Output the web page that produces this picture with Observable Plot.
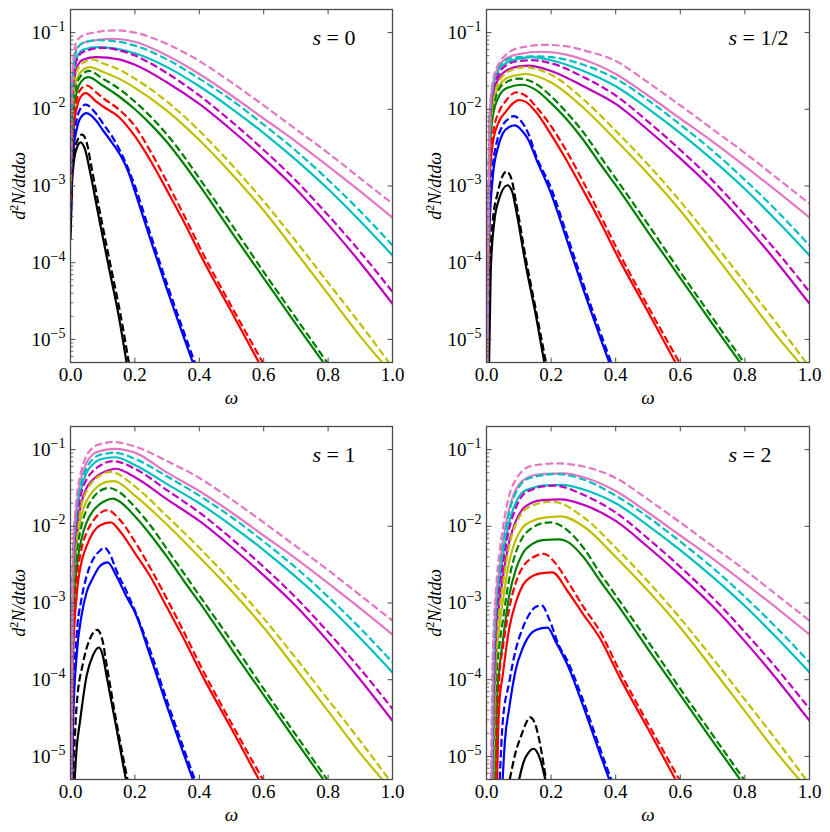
<!DOCTYPE html>
<html>
<head>
<meta charset="utf-8">
<script src="https://cdn.jsdelivr.net/npm/d3@7"></script>
<script src="https://cdn.jsdelivr.net/npm/@observablehq/plot@0.6"></script>
<style>
  body { margin: 0; background: #fff; }
  #fig { position: relative; width: 830px; height: 832px; background: #fff; }
  .panel { position: absolute; width: 415px; height: 416px; }
</style>
</head>
<body>
<div id="fig"></div>
<script>
// ---------- chart values ----------
// Each curve is a list of [omega, log10(d2N/dtdω)] pairs.
const seriesNames  = ["k", "b", "r", "g", "y", "m", "c", "p"];
const seriesColors = ["#000000", "#0000ff", "#ff0000", "#008000", "#bfbf00", "#bf00bf", "#00bfbf", "#e377c2"];
const omegaTicks = [0, 0.2, 0.4, 0.6, 0.8, 1.0];
const decadeExponents = [-5, -4, -3, -2, -1];
const panelLabels = ["0", "1/2", "1", "2"];
const xLabel = "ω";
const yLabel = "d2N/dtdω";
const omegaDomain = [0, 1];
const rateDomain = [5e-6, 0.2];

// high-omega parts, identical in all four panels
const tailSolid = [
  [],
  [[0.3,-4.35],[0.35,-4.95],[0.38,-5.3]],
  [[0.35,-3.45],[0.41,-3.95],[0.5,-4.64],[0.585,-5.3]],
  [[0.35,-2.7],[0.4,-2.99],[0.5,-3.6],[0.6,-4.2],[0.7,-4.8],[0.785,-5.3]],
  [[0.4,-2.4],[0.5,-2.84],[0.6,-3.32],[0.7,-3.86],[0.8,-4.41],[0.9,-4.96],[0.968,-5.3]],
  [[0.4,-1.93],[0.5,-2.27],[0.6,-2.64],[0.7,-3.04],[0.8,-3.5],[0.9,-4.0],[1.0,-4.535]],
  [[0.4,-1.7],[0.5,-1.99],[0.6,-2.31],[0.7,-2.66],[0.8,-3.04],[0.9,-3.46],[1.0,-3.905]],
  [[0.4,-1.54],[0.5,-1.82],[0.6,-2.12],[0.7,-2.42],[0.8,-2.74],[0.9,-3.07],[1.0,-3.41]]
];
const tailDashed = [
  [],
  [[0.3,-4.28],[0.35,-4.88],[0.386,-5.3]],
  [[0.35,-3.36],[0.41,-3.87],[0.5,-4.57],[0.597,-5.3]],
  [[0.35,-2.6],[0.4,-2.9],[0.5,-3.5],[0.6,-4.12],[0.7,-4.72],[0.797,-5.3]],
  [[0.4,-2.28],[0.5,-2.72],[0.6,-3.2],[0.7,-3.72],[0.8,-4.26],[0.9,-4.8],[0.989,-5.3]],
  [[0.4,-1.82],[0.5,-2.16],[0.6,-2.53],[0.7,-2.93],[0.8,-3.38],[0.9,-3.86],[1.0,-4.38]],
  [[0.4,-1.6],[0.5,-1.88],[0.6,-2.2],[0.7,-2.54],[0.8,-2.92],[0.9,-3.33],[1.0,-3.775]],
  [[0.4,-1.37],[0.5,-1.65],[0.6,-1.95],[0.7,-2.26],[0.8,-2.57],[0.9,-2.9],[1.0,-3.23]]
];

// s = 0
const s0Solid = [
  [[0,-3.69],[0.005,-2.95],[0.01,-2.7],[0.02,-2.5],[0.031,-2.43],[0.045,-2.52],[0.06,-2.8],[0.09,-3.45],[0.12,-4.08],[0.15,-4.7],[0.174,-5.3]],
  [[0,-3.4],[0.005,-2.8],[0.01,-2.5],[0.02,-2.25],[0.03,-2.12],[0.05,-2.05],[0.08,-2.15],[0.1,-2.27],[0.13,-2.44],[0.155,-2.6],[0.18,-2.82],[0.2,-3.07],[0.25,-3.72]],
  [[0,-3.25],[0.005,-2.6],[0.01,-2.25],[0.02,-1.97],[0.03,-1.85],[0.047,-1.79],[0.08,-1.9],[0.1,-1.96],[0.15,-2.1],[0.2,-2.35],[0.25,-2.68],[0.3,-3.06]],
  [[0,-3.1],[0.005,-2.4],[0.01,-2.0],[0.02,-1.77],[0.035,-1.63],[0.055,-1.58],[0.1,-1.69],[0.15,-1.83],[0.2,-2.0],[0.25,-2.2],[0.3,-2.43]],
  [[0,-3.0],[0.005,-2.25],[0.01,-1.85],[0.02,-1.6],[0.035,-1.5],[0.06,-1.45],[0.1,-1.51],[0.15,-1.6],[0.2,-1.72],[0.3,-2.02]],
  [[0,-2.9],[0.005,-2.1],[0.01,-1.7],[0.02,-1.45],[0.04,-1.35],[0.08,-1.32],[0.15,-1.35],[0.2,-1.42],[0.3,-1.65]],
  [[0,-2.8],[0.005,-1.95],[0.01,-1.55],[0.02,-1.32],[0.04,-1.22],[0.09,-1.19],[0.2,-1.27],[0.3,-1.45]],
  [[0,-2.7],[0.005,-1.8],[0.01,-1.4],[0.02,-1.2],[0.05,-1.12],[0.13,-1.08],[0.2,-1.12],[0.3,-1.3]]
];
const s0Dashed = [
  [[0,-3.6],[0.005,-2.85],[0.01,-2.6],[0.02,-2.42],[0.036,-2.33],[0.05,-2.43],[0.065,-2.75],[0.095,-3.42],[0.125,-4.05],[0.155,-4.67],[0.181,-5.3]],
  [[0,-3.35],[0.005,-2.7],[0.01,-2.4],[0.02,-2.12],[0.03,-2.0],[0.047,-1.94],[0.08,-2.06],[0.1,-2.18],[0.13,-2.36],[0.155,-2.55],[0.18,-2.78],[0.2,-3.0],[0.25,-3.65]],
  [[0,-3.2],[0.005,-2.5],[0.01,-2.15],[0.02,-1.87],[0.03,-1.75],[0.05,-1.69],[0.08,-1.78],[0.1,-1.85],[0.15,-2.0],[0.2,-2.22],[0.25,-2.56],[0.3,-2.95]],
  [[0,-3.05],[0.005,-2.3],[0.01,-1.92],[0.02,-1.67],[0.035,-1.55],[0.058,-1.5],[0.1,-1.6],[0.15,-1.73],[0.2,-1.9],[0.25,-2.1],[0.3,-2.33]],
  [[0,-2.95],[0.005,-2.2],[0.01,-1.75],[0.02,-1.5],[0.04,-1.39],[0.07,-1.35],[0.1,-1.4],[0.15,-1.48],[0.2,-1.6],[0.3,-1.9]],
  [[0,-2.85],[0.005,-2.0],[0.01,-1.6],[0.02,-1.35],[0.04,-1.25],[0.1,-1.2],[0.15,-1.23],[0.2,-1.3],[0.3,-1.53]],
  [[0,-2.75],[0.005,-1.85],[0.01,-1.45],[0.02,-1.22],[0.04,-1.13],[0.08,-1.1],[0.15,-1.12],[0.2,-1.17],[0.3,-1.35]],
  [[0,-2.65],[0.005,-1.7],[0.01,-1.3],[0.02,-1.1],[0.05,-1.02],[0.14,-0.97],[0.2,-1.0],[0.3,-1.15]]
];

// s = 1/2
const s05Solid = [
  [[0.008,-5.3],[0.013,-4.12],[0.024,-3.47],[0.039,-3.17],[0.065,-2.99],[0.08,-3.08],[0.091,-3.3],[0.122,-4.04],[0.153,-4.69],[0.179,-5.3]],
  [[0.004,-5.3],[0.008,-3.69],[0.02,-2.86],[0.034,-2.52],[0.05,-2.32],[0.07,-2.23],[0.088,-2.21],[0.11,-2.28],[0.13,-2.4],[0.153,-2.64],[0.2,-3.1],[0.25,-3.72]],
  [[0.003,-5.3],[0.01,-2.91],[0.02,-2.43],[0.04,-2.15],[0.06,-2.03],[0.08,-1.93],[0.1,-1.88],[0.12,-1.9],[0.15,-2.02],[0.2,-2.33],[0.25,-2.68],[0.3,-3.06]],
  [[0.003,-5.3],[0.01,-2.56],[0.02,-2.08],[0.04,-1.82],[0.06,-1.73],[0.11,-1.68],[0.15,-1.74],[0.2,-1.92],[0.25,-2.14],[0.3,-2.4]],
  [[0.002,-5.3],[0.01,-2.39],[0.02,-1.95],[0.04,-1.69],[0.06,-1.6],[0.1,-1.55],[0.12,-1.54],[0.2,-1.65],[0.3,-1.98]],
  [[0.002,-5.3],[0.01,-2.26],[0.02,-1.82],[0.04,-1.58],[0.06,-1.5],[0.1,-1.44],[0.13,-1.43],[0.2,-1.5],[0.3,-1.7]],
  [[0.002,-5.3],[0.01,-2.15],[0.02,-1.73],[0.04,-1.47],[0.06,-1.4],[0.1,-1.34],[0.14,-1.32],[0.2,-1.36],[0.3,-1.5]],
  [[0.002,-5.3],[0.01,-2.08],[0.02,-1.67],[0.04,-1.43],[0.06,-1.34],[0.1,-1.28],[0.17,-1.25],[0.25,-1.29],[0.3,-1.35]]
];
const s05Dashed = [
  [[0.006,-5.3],[0.011,-4.1],[0.019,-3.47],[0.034,-3.1],[0.062,-2.81],[0.078,-2.92],[0.091,-3.2],[0.122,-3.95],[0.153,-4.62],[0.184,-5.3]],
  [[0.004,-5.3],[0.008,-3.5],[0.02,-2.73],[0.034,-2.39],[0.05,-2.21],[0.07,-2.12],[0.084,-2.09],[0.11,-2.17],[0.13,-2.32],[0.153,-2.6],[0.2,-3.03],[0.25,-3.65]],
  [[0.003,-5.3],[0.01,-2.78],[0.02,-2.32],[0.04,-2.02],[0.06,-1.89],[0.08,-1.8],[0.09,-1.78],[0.12,-1.82],[0.15,-1.95],[0.2,-2.22],[0.25,-2.56],[0.3,-2.95]],
  [[0.003,-5.3],[0.01,-2.48],[0.02,-2.02],[0.04,-1.73],[0.06,-1.65],[0.1,-1.6],[0.15,-1.66],[0.2,-1.83],[0.25,-2.05],[0.3,-2.3]],
  [[0.002,-5.3],[0.01,-2.35],[0.02,-1.89],[0.04,-1.63],[0.06,-1.53],[0.1,-1.46],[0.116,-1.45],[0.2,-1.55],[0.3,-1.87]],
  [[0.002,-5.3],[0.01,-2.22],[0.02,-1.78],[0.04,-1.52],[0.06,-1.43],[0.1,-1.37],[0.14,-1.36],[0.2,-1.4],[0.3,-1.58]],
  [[0.002,-5.3],[0.01,-2.12],[0.02,-1.7],[0.04,-1.45],[0.06,-1.36],[0.1,-1.32],[0.14,-1.31],[0.2,-1.32],[0.3,-1.42]],
  [[0.002,-5.3],[0.01,-2.04],[0.02,-1.63],[0.04,-1.39],[0.06,-1.29],[0.1,-1.2],[0.18,-1.16],[0.25,-1.18],[0.3,-1.23]]
];

// s = 1
const s1Solid = [
  [[0.013,-5.3],[0.019,-4.9],[0.029,-4.56],[0.05,-3.95],[0.07,-3.68],[0.088,-3.58],[0.1,-3.68],[0.112,-3.95],[0.143,-4.64],[0.172,-5.3]],
  [[0.006,-5.3],[0.008,-4.56],[0.019,-3.69],[0.034,-3.17],[0.05,-2.86],[0.07,-2.67],[0.091,-2.52],[0.115,-2.47],[0.143,-2.65],[0.174,-2.92],[0.2,-3.12],[0.25,-3.72]],
  [[0.004,-5.3],[0.008,-3.69],[0.019,-2.91],[0.034,-2.47],[0.05,-2.26],[0.07,-2.08],[0.091,-1.99],[0.125,-1.95],[0.153,-2.06],[0.2,-2.35],[0.25,-2.67],[0.3,-3.06]],
  [[0.003,-5.3],[0.008,-3.25],[0.019,-2.56],[0.034,-2.17],[0.05,-1.95],[0.07,-1.8],[0.091,-1.71],[0.112,-1.66],[0.132,-1.64],[0.15,-1.67],[0.2,-1.87],[0.25,-2.12],[0.3,-2.4]],
  [[0.003,-5.3],[0.008,-2.91],[0.019,-2.26],[0.034,-1.86],[0.05,-1.67],[0.07,-1.54],[0.091,-1.46],[0.112,-1.42],[0.135,-1.41],[0.2,-1.6],[0.3,-1.98]],
  [[0.003,-5.3],[0.008,-2.73],[0.019,-2.08],[0.034,-1.69],[0.05,-1.5],[0.07,-1.39],[0.091,-1.32],[0.112,-1.28],[0.14,-1.25],[0.2,-1.36],[0.3,-1.65]],
  [[0.002,-5.3],[0.008,-2.52],[0.019,-1.86],[0.034,-1.5],[0.05,-1.3],[0.07,-1.19],[0.091,-1.13],[0.138,-1.1],[0.2,-1.2],[0.3,-1.45]],
  [[0.002,-5.3],[0.008,-2.39],[0.019,-1.73],[0.034,-1.36],[0.05,-1.17],[0.07,-1.06],[0.091,-1.02],[0.112,-1.0],[0.138,-0.99],[0.2,-1.04],[0.3,-1.3]]
];
const s1Dashed = [
  [[0.008,-5.3],[0.019,-4.34],[0.039,-3.78],[0.06,-3.47],[0.083,-3.35],[0.1,-3.5],[0.112,-3.8],[0.143,-4.56],[0.177,-5.3]],
  [[0.005,-5.3],[0.008,-4.4],[0.019,-3.43],[0.034,-2.95],[0.05,-2.65],[0.07,-2.43],[0.091,-2.32],[0.105,-2.28],[0.122,-2.36],[0.143,-2.58],[0.174,-2.85],[0.2,-3.1],[0.25,-3.65]],
  [[0.004,-5.3],[0.008,-3.52],[0.019,-2.73],[0.034,-2.3],[0.05,-2.08],[0.07,-1.93],[0.091,-1.83],[0.115,-1.79],[0.15,-1.9],[0.2,-2.2],[0.25,-2.56],[0.3,-2.95]],
  [[0.003,-5.3],[0.008,-3.08],[0.019,-2.39],[0.034,-2.0],[0.05,-1.78],[0.07,-1.63],[0.091,-1.54],[0.12,-1.5],[0.15,-1.55],[0.2,-1.75],[0.25,-2.0],[0.3,-2.3]],
  [[0.003,-5.3],[0.008,-2.73],[0.019,-2.13],[0.034,-1.73],[0.05,-1.54],[0.07,-1.41],[0.091,-1.34],[0.125,-1.29],[0.2,-1.48],[0.3,-1.87]],
  [[0.003,-5.3],[0.008,-2.6],[0.019,-1.95],[0.034,-1.56],[0.05,-1.39],[0.07,-1.28],[0.091,-1.21],[0.132,-1.15],[0.2,-1.25],[0.3,-1.53]],
  [[0.002,-5.3],[0.008,-2.45],[0.019,-1.8],[0.034,-1.43],[0.05,-1.24],[0.07,-1.12],[0.091,-1.07],[0.115,-1.05],[0.135,-1.04],[0.2,-1.12],[0.3,-1.35]],
  [[0.002,-5.3],[0.008,-2.3],[0.019,-1.64],[0.034,-1.27],[0.05,-1.08],[0.07,-0.97],[0.091,-0.93],[0.112,-0.91],[0.132,-0.9],[0.2,-0.96],[0.3,-1.15]]
];

// s = 2
const s2Solid = [
  [[0.101,-5.3],[0.115,-5.07],[0.13,-4.95],[0.146,-4.9],[0.16,-4.97],[0.172,-5.12],[0.182,-5.3]],
  [[0.05,-5.3],[0.057,-4.8],[0.07,-4.38],[0.091,-3.86],[0.111,-3.6],[0.142,-3.38],[0.168,-3.33],[0.189,-3.32],[0.215,-3.51],[0.25,-3.8]],
  [[0.033,-5.3],[0.036,-4.7],[0.04,-4.3],[0.05,-3.95],[0.07,-3.34],[0.091,-2.99],[0.111,-2.78],[0.142,-2.65],[0.173,-2.61],[0.204,-2.6],[0.25,-2.84],[0.3,-3.15]],
  [[0.027,-5.3],[0.031,-4.5],[0.034,-4.15],[0.04,-3.85],[0.05,-3.51],[0.07,-2.91],[0.091,-2.56],[0.111,-2.36],[0.142,-2.23],[0.173,-2.18],[0.225,-2.17],[0.25,-2.2],[0.3,-2.4]],
  [[0.023,-5.3],[0.027,-4.3],[0.03,-3.8],[0.04,-3.3],[0.05,-2.99],[0.07,-2.47],[0.091,-2.17],[0.111,-2.02],[0.142,-1.93],[0.173,-1.89],[0.23,-1.87],[0.3,-2.0]],
  [[0.02,-5.3],[0.025,-4.1],[0.029,-3.5],[0.04,-3.0],[0.05,-2.69],[0.07,-2.21],[0.091,-1.93],[0.111,-1.78],[0.142,-1.69],[0.173,-1.66],[0.23,-1.65],[0.3,-1.72]],
  [[0.018,-5.3],[0.023,-4.0],[0.029,-3.2],[0.04,-2.75],[0.05,-2.43],[0.07,-1.95],[0.091,-1.69],[0.111,-1.56],[0.142,-1.5],[0.173,-1.47],[0.235,-1.46],[0.3,-1.52]],
  [[0.016,-5.3],[0.021,-3.85],[0.029,-3.0],[0.04,-2.55],[0.05,-2.21],[0.07,-1.78],[0.091,-1.52],[0.111,-1.41],[0.142,-1.34],[0.173,-1.32],[0.24,-1.31],[0.3,-1.36]]
];
const s2Dashed = [
  [[0.072,-5.3],[0.09,-4.95],[0.11,-4.7],[0.123,-4.56],[0.135,-4.49],[0.148,-4.55],[0.16,-4.72],[0.172,-4.98],[0.184,-5.3]],
  [[0.041,-5.3],[0.05,-4.56],[0.07,-4.04],[0.091,-3.6],[0.111,-3.34],[0.132,-3.15],[0.153,-3.05],[0.171,-3.03],[0.194,-3.21],[0.225,-3.56],[0.25,-3.75]],
  [[0.03,-5.3],[0.033,-4.7],[0.036,-4.3],[0.04,-3.95],[0.05,-3.6],[0.07,-3.08],[0.091,-2.73],[0.111,-2.54],[0.142,-2.41],[0.178,-2.36],[0.215,-2.49],[0.25,-2.71],[0.3,-3.05]],
  [[0.024,-5.3],[0.028,-4.4],[0.031,-4.0],[0.04,-3.55],[0.05,-3.25],[0.07,-2.69],[0.091,-2.34],[0.111,-2.15],[0.142,-2.02],[0.173,-1.96],[0.2,-1.95],[0.25,-2.05],[0.3,-2.28]],
  [[0.021,-5.3],[0.025,-4.3],[0.029,-3.65],[0.04,-3.1],[0.05,-2.78],[0.07,-2.26],[0.091,-1.97],[0.111,-1.82],[0.142,-1.73],[0.173,-1.69],[0.204,-1.68],[0.3,-1.88]],
  [[0.018,-5.3],[0.023,-4.1],[0.029,-3.3],[0.04,-2.8],[0.05,-2.52],[0.07,-2.04],[0.091,-1.76],[0.111,-1.6],[0.142,-1.52],[0.173,-1.48],[0.21,-1.47],[0.3,-1.59]],
  [[0.016,-5.3],[0.021,-3.95],[0.029,-3.08],[0.04,-2.6],[0.05,-2.3],[0.07,-1.82],[0.091,-1.56],[0.111,-1.43],[0.142,-1.36],[0.22,-1.32],[0.3,-1.39]],
  [[0.014,-5.3],[0.019,-3.75],[0.029,-2.85],[0.04,-2.35],[0.05,-2.04],[0.07,-1.6],[0.091,-1.39],[0.111,-1.28],[0.142,-1.21],[0.22,-1.18],[0.3,-1.22]]
];

// ---------- drawing ----------
const FONT = '"Liberation Serif", "Times New Roman", "DejaVu Serif", serif';
const FRAME = "#4a4a4a";
const SVGNS = "http://www.w3.org/2000/svg";
const tickShape = { draw(context, l) { context.moveTo(0, 0); context.lineTo(0, -l); } };
document.getElementById("fig").style.fontFamily = FONT;

function rowsFor(lows, tails, style) {
  const rows = [];
  lows.forEach((pts, i) => {
    pts.concat(tails[i]).forEach(([w, lg]) => {
      rows.push({ series: seriesNames[i], style, omega: w, rate: Math.pow(10, lg) });
    });
  });
  return rows;
}

const majorTicks = decadeExponents.map(e => Math.pow(10, e));
const minorTicks = [];
[-6].concat(decadeExponents).forEach(e => {
  for (let k = 2; k < 10; k++) {
    const v = k * Math.pow(10, e);
    if (v > rateDomain[0] && v < rateDomain[1] * 0.999) minorTicks.push(v);
  }
});

function span(parent, txt, attrs) {
  const s = document.createElementNS(SVGNS, "tspan");
  s.textContent = txt;
  Object.entries(attrs || {}).forEach(([k, v]) => s.setAttribute(k, v));
  parent.appendChild(s);
}

function makePanel(lowSolid, lowDashed, label, m) {
  const solid = rowsFor(lowSolid, tailSolid, "solid");
  const dashed = rowsFor(lowDashed, tailDashed, "dashed");
  const svg = Plot.plot({
    width: 415, height: 416,
    marginLeft: m.l, marginRight: m.r, marginTop: m.t, marginBottom: m.b,
    style: { fontFamily: FONT, fontSize: "18px", color: "#000", background: "transparent", overflow: "visible" },
    x: { domain: omegaDomain },
    y: { type: "log", domain: rateDomain },
    color: { domain: seriesNames, range: seriesColors },
    marks: [
      Plot.line(solid, { x: "omega", y: "rate", z: "series", stroke: { value: "series", scale: "color" }, strokeWidth: 2.2, curve: "monotone-x", clip: true }),
      Plot.line(dashed, { x: "omega", y: "rate", z: "series", stroke: { value: "series", scale: "color" }, strokeWidth: 2.2, curve: "monotone-x", clip: true, strokeDasharray: "7.6,3.3", strokeLinecap: "butt" }),
      Plot.frame({ stroke: FRAME, strokeWidth: 1.3 }),
      Plot.vector(majorTicks, { y: d => d, frameAnchor: "left", length: 4.5, rotate: 90, anchor: "start", shape: tickShape, stroke: FRAME, strokeWidth: 1 }),
      Plot.vector(minorTicks, { y: d => d, frameAnchor: "left", length: 2.5, rotate: 90, anchor: "start", shape: tickShape, stroke: FRAME, strokeWidth: 0.8 }),
      Plot.vector(majorTicks, { y: d => d, frameAnchor: "right", length: 4.5, rotate: -90, anchor: "start", shape: tickShape, stroke: FRAME, strokeWidth: 1 }),
      Plot.vector(omegaTicks.slice(1, -1), { x: d => d, frameAnchor: "bottom", length: 4.5, rotate: 0, anchor: "start", shape: tickShape, stroke: FRAME, strokeWidth: 1 }),
      Plot.vector(omegaTicks.slice(1, -1), { x: d => d, frameAnchor: "top", length: 4.5, rotate: 180, anchor: "start", shape: tickShape, stroke: FRAME, strokeWidth: 1 }),
      Plot.axisX({ ticks: omegaTicks, tickSize: 0, tickPadding: 5, tickFormat: d3.format(".1f"), label: null, fontSize: 19 }),
      Plot.axisY({ ticks: majorTicks, tickSize: 0, tickPadding: 5, tickFormat: d => "10^" + Math.round(Math.log10(d)), label: null, fontSize: 19 }),
      Plot.text([xLabel], { text: d => d, frameAnchor: "bottom", textAnchor: "middle", lineAnchor: "middle", dy: 35, fontStyle: "italic", fontSize: 19 }),
      Plot.text([yLabel], { text: d => d, frameAnchor: "left", textAnchor: "middle", lineAnchor: "middle", dx: -51, rotate: -90, fontStyle: "italic", fontSize: 18 }),
      Plot.text([label], { text: d => d, frameAnchor: "top-left", textAnchor: "start", lineAnchor: "top", dx: 242, dy: 20, fontSize: 22 })
    ]
  });

  svg.querySelectorAll("text").forEach(t => {
    const s = t.textContent;
    if (s.startsWith("10^")) {
      const e = s.slice(3).replace("-", "\u2212");
      t.textContent = "";
      span(t, "10");
      span(t, e, { "font-size": "14", dy: "-8" });
    } else if (s === yLabel) {
      t.textContent = "";
      span(t, "d");
      span(t, "2", { "font-size": "12", dy: "-7", "font-style": "normal" });
      span(t, "N/dtdω", { dy: "7" });
    } else if (s === label) {
      t.textContent = "";
      span(t, "s", { "font-style": "italic" });
      span(t, " = " + label);
    }
  });
  return svg;
}

const layout = [
  { left: 0,   top: 0,   m: { l: 70, r: 23, t: 9,  b: 54 } },
  { left: 415, top: 0,   m: { l: 71, r: 21, t: 9,  b: 54 } },
  { left: 0,   top: 416, m: { l: 70, r: 23, t: 10, b: 53 } },
  { left: 415, top: 416, m: { l: 71, r: 21, t: 10, b: 53 } }
];
const panelData = [[s0Solid, s0Dashed], [s05Solid, s05Dashed], [s1Solid, s1Dashed], [s2Solid, s2Dashed]];

const fig = document.getElementById("fig");
layout.forEach((p, i) => {
  const div = document.createElement("div");
  div.className = "panel";
  div.style.left = p.left + "px";
  div.style.top = p.top + "px";
  div.appendChild(makePanel(panelData[i][0], panelData[i][1], panelLabels[i], p.m));
  fig.appendChild(div);
});
</script>
</body>
</html>
